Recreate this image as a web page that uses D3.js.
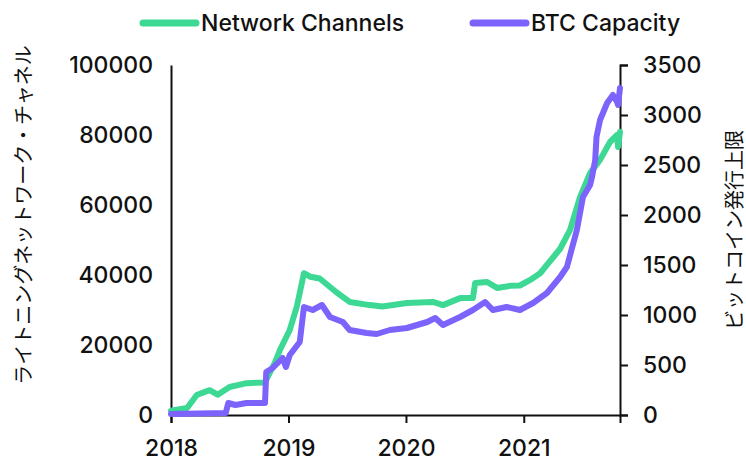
<!DOCTYPE html>
<html>
<head>
<meta charset="utf-8">
<script src="https://cdn.jsdelivr.net/npm/d3@7"></script>
<style>
  body { margin: 0; background: #fff; }
  text { font-family: Inter, Lato, sans-serif; font-weight: 500; fill: #111; }
  .jp { font-family: "Noto Sans CJK JP", sans-serif; font-weight: 400; }
</style>
</head>
<body>
<script>
(function () {

// lightning network channels (left axis)
var channelDates = ["2018-01-01","2018-02-20","2018-03-22","2018-05-01","2018-05-26","2018-07-02",
  "2018-08-24","2018-10-20","2018-11-20","2018-12-05","2019-01-05","2019-01-27","2019-02-18",
  "2019-03-10","2019-04-08","2019-05-31","2019-07-10","2019-09-10","2019-10-20","2020-01-04",
  "2020-03-25","2020-04-25","2020-06-17","2020-07-27","2020-08-03","2020-09-09","2020-10-10",
  "2020-11-19","2020-12-20","2021-01-21","2021-02-21","2021-03-14","2021-04-02","2021-04-24",
  "2021-05-25","2021-06-25","2021-07-26","2021-08-26","2021-09-26","2021-10-18","2021-10-21","2021-10-27"]
var channels = [1200,2000,5700,7100,5800,8000,
  9100,9300,15000,18500,24300,31000,40500,
  39500,39000,35000,32300,31400,31000,32000,
  32300,31400,33400,33400,37700,38000,36300,
  36900,37000,38600,40500,42900,45000,47500,
  52900,62300,69100,72900,78000,80000,76600,80900]

// BTC capacity (right axis)
var capacityDates = ["2018-01-01","2018-06-20","2018-06-28","2018-07-20","2018-08-24","2018-10-20",
  "2018-10-24","2018-11-13","2018-12-14","2018-12-24","2019-01-05","2019-02-05","2019-02-18",
  "2019-03-17","2019-04-15","2019-05-10","2019-06-19","2019-07-10","2019-09-01","2019-10-02",
  "2019-11-12","2020-01-04","2020-03-07","2020-04-01","2020-04-25","2020-06-17","2020-07-27",
  "2020-09-03","2020-09-27","2020-11-09","2020-12-20","2021-01-30","2021-03-14","2021-04-24",
  "2021-05-15","2021-06-15","2021-07-04","2021-07-26","2021-08-01","2021-08-11","2021-08-15",
  "2021-08-26","2021-09-17","2021-10-05","2021-10-18","2021-10-21","2021-10-27"]
var capacity = [10,20,120,100,120,120,
  430,470,570,480,600,730,1080,
  1050,1100,980,930,850,820,810,
  850,870,930,970,900,980,1050,
  1130,1050,1080,1050,1120,1220,1380,
  1480,1850,2180,2300,2380,2550,2780,
  2950,3120,3200,3130,3100,3270]

var yearTicks = ["2018","2019","2020","2021"]
var leftTicks = [0,20000,40000,60000,80000,100000]
var rightTicks = [0,500,1000,1500,2000,2500,3000,3500]

var seriesNames = ["Network Channels","BTC Capacity"]
var green = "#3dd894",
    purple = "#7b63fc"

var width = 746,
    height = 462,
    left = 171,
    right = 620,
    top = 65,
    bottom = 415

var parse = d3.timeParse("%Y-%m-%d")

var channelData = channelDates.map(function(d, i) { return { date: parse(d), value: channels[i] } })
var capacityData = capacityDates.map(function(d, i) { return { date: parse(d), value: capacity[i] } })

var svg = d3.select("body")
  .append("svg")
  .attr("width", width)
  .attr("height", height)

var x = d3.scaleTime()
  .domain([parse("2018-01-01"), parse("2021-10-27")])
  .range([left, right])
var yLeft = d3.scaleLinear().domain([0, 100000]).range([bottom, top])
var yRight = d3.scaleLinear().domain([0, 3500]).range([bottom, top])

// axes
svg.append("g")
  .attr("transform", "translate(0 " + bottom + ")")
  .call(d3.axisBottom(x)
    .tickValues(yearTicks.map(function(d) { return parse(d + "-01-01") }))
    .tickFormat(d3.timeFormat("%Y"))
    .tickSize(8)
    .tickPadding(17))

svg.append("g")
  .attr("transform", "translate(" + left + " 0)")
  .call(d3.axisLeft(yLeft).tickValues(leftTicks).tickFormat(d3.format("d")).tickSize(0).tickPadding(18))

svg.append("g")
  .attr("transform", "translate(" + right + " 0)")
  .call(d3.axisRight(yRight).tickValues(rightTicks).tickFormat(d3.format("d")).tickSize(8).tickPadding(15))

svg.selectAll(".domain, .tick line")
  .attr("stroke", "#111")
  .attr("stroke-width", 2)

svg.selectAll(".tick text")
  .style("font-size", "23px")
  .attr("fill", "#111")

// lines
var lineLeft = d3.line()
  .x(function(d) { return x(d.date) })
  .y(function(d) { return yLeft(d.value) })

var lineRight = d3.line()
  .x(function(d) { return x(d.date) })
  .y(function(d) { return yRight(d.value) })

svg.append("path")
  .datum(channelData)
  .attr("d", lineLeft)
  .attr("fill", "none")
  .attr("stroke", green)
  .attr("stroke-width", 6)
  .attr("stroke-linejoin", "round")
  .attr("stroke-linecap", "round")

svg.append("path")
  .datum(capacityData)
  .attr("d", lineRight)
  .attr("fill", "none")
  .attr("stroke", purple)
  .attr("stroke-width", 6)
  .attr("stroke-linejoin", "round")
  .attr("stroke-linecap", "round")

// axis titles
svg.append("text")
  .attr("class", "jp")
  .attr("transform", "translate(22 215) rotate(-90)")
  .attr("text-anchor", "middle")
  .attr("dominant-baseline", "central")
  .style("font-size", "20px")
  .text("ライトニングネットワーク・チャネル")

svg.append("text")
  .attr("class", "jp")
  .attr("transform", "translate(733 230) rotate(-90)")
  .attr("text-anchor", "middle")
  .attr("dominant-baseline", "central")
  .style("font-size", "20px")
  .text("ビットコイン発行上限")

// legend
var legendX = [143, 473]
var legendColors = [green, purple]
var legend = svg.selectAll(".legend")
  .data(seriesNames)
  .enter().append("g")
  .attr("class", "legend")
  .attr("transform", function(d, i) { return "translate(" + legendX[i] + " 23)" })

legend.append("line")
  .attr("x1", 0)
  .attr("x2", 53)
  .attr("stroke", function(d, i) { return legendColors[i] })
  .attr("stroke-width", 7)
  .attr("stroke-linecap", "round")

legend.append("text")
  .attr("x", 58)
  .attr("dy", "0.35em")
  .style("font-size", "23px")
  .text(function(d) { return d })

})()
</script>
</body>
</html>
